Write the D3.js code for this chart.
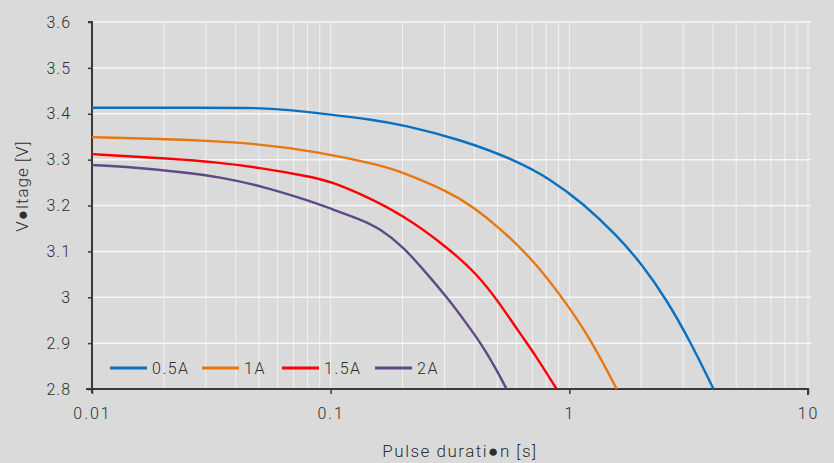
<!DOCTYPE html>
<html>
<head>
<meta charset="utf-8">
<script src="https://cdn.jsdelivr.net/npm/d3@7"></script>
<style>
  body { margin: 0; background: #dadada; }
  svg { display: block; }
  text { font-family: Roboto, "DejaVu Sans", sans-serif; font-weight: 300; fill: #2e2e2e; }
</style>
</head>
<body>
<svg></svg>
<script>
let w = 834;
let h = 463;

// data
let seriesNames = ['0.5A', '1A', '1.5A', '2A'];

let t05 = [0.01, 0.03, 0.05, 0.065, 0.1, 0.15, 0.2, 0.35, 0.6, 0.83, 1.14, 1.58, 2.03, 2.56, 3.2, 4.02];
let v05 = [3.413, 3.413, 3.413, 3.409, 3.398, 3.387, 3.376, 3.344, 3.298, 3.258, 3.205, 3.135, 3.07, 2.994, 2.905, 2.8];

let t1 = [0.01, 0.02, 0.03, 0.046, 0.09, 0.16, 0.195, 0.316, 0.395, 0.512, 0.704, 0.884, 1.19, 1.58];
let v1 = [3.349, 3.345, 3.341, 3.336, 3.317, 3.288, 3.275, 3.229, 3.197, 3.151, 3.081, 3.016, 2.922, 2.8];

let t15 = [0.01, 0.023, 0.032, 0.05, 0.084, 0.1, 0.133, 0.2015, 0.306, 0.409, 0.512, 0.621, 0.729, 0.884];
let v15 = [3.312, 3.301, 3.295, 3.283, 3.262, 3.252, 3.226, 3.179, 3.11, 3.052, 2.986, 2.921, 2.87, 2.8];

let t2 = [0.01, 0.013, 0.026, 0.034, 0.052, 0.084, 0.1, 0.133, 0.161, 0.2015, 0.2524, 0.306, 0.371, 0.436, 0.496, 0.546];
let v2 = [3.288, 3.286, 3.271, 3.262, 3.242, 3.208, 3.193, 3.17, 3.15, 3.11, 3.052, 3.001, 2.943, 2.892, 2.841, 2.8];

let yTicks = [2.8, 2.9, 3, 3.1, 3.2, 3.3, 3.4, 3.5, 3.6];
let xTicks = [0.01, 0.1, 1, 10];
let xTickLabels = ['0.01', '0.1', '1', '10'];

let colors = ['#0a70bf', '#e8770f', '#ff0000', '#5f4a86'];

let series = [
  { name: seriesNames[0], t: t05, v: v05 },
  { name: seriesNames[1], t: t1, v: v1 },
  { name: seriesNames[2], t: t15, v: v15 },
  { name: seriesNames[3], t: t2, v: v2 }
];

let pLeft = 92, pRight = 808, pTop = 22, pBottom = 389;

let svg = d3.select('svg').attr('width', w).attr('height', h);

let x = d3.scaleLog().domain([0.01, 10]).range([pLeft, pRight]);
let y = d3.scaleLinear().domain([2.8, 3.6]).range([pBottom, pTop]);

// minor gridlines on the log axis
let minor = [];
[0.01, 0.1, 1].forEach(d => {
  for (let k = 1; k <= 9; k++) minor.push(d * k);
});
minor.push(10);

svg.append('g')
  .selectAll('line')
  .data(minor)
  .enter()
  .append('line')
  .attr('x1', d => x(d))
  .attr('x2', d => x(d))
  .attr('y1', pTop)
  .attr('y2', pBottom)
  .attr('stroke', '#f2f2f2')
  .attr('stroke-width', 1);

svg.append('g')
  .selectAll('line')
  .data(yTicks.slice(1))
  .enter()
  .append('line')
  .attr('x1', pLeft)
  .attr('x2', pRight + 3)
  .attr('y1', d => y(d))
  .attr('y2', d => y(d))
  .attr('stroke', '#f6f6f6')
  .attr('stroke-width', 1.5);

// y axis
let yAxis = svg.append('g')
  .attr('transform', `translate(${pLeft},0)`)
  .call(d3.axisLeft(y).tickValues(yTicks).tickSize(4).tickPadding(17).tickFormat(d => d3.format('')(d)));
yAxis.select('.domain').attr('stroke', '#3a3a3a').attr('stroke-width', 2).attr('d', `M-4,${pTop}H0V${pBottom + 4}`);
yAxis.selectAll('.tick line').attr('stroke', '#3a3a3a').attr('stroke-width', 1.5);
yAxis.selectAll('.tick text').style('font-size', '16px').style('letter-spacing', '1px').attr('fill', '#2e2e2e');

// x axis
let xAxis = svg.append('g')
  .attr('transform', `translate(0,${pBottom})`)
  .call(d3.axisBottom(x).tickValues(xTicks).tickSize(5).tickPadding(14).tickFormat((d, i) => xTickLabels[i]));
xAxis.select('.domain').attr('stroke', '#3a3a3a').attr('stroke-width', 2).attr('d', `M${pLeft - 6},0H${pRight}V6`);
xAxis.selectAll('.tick line').attr('stroke', '#3a3a3a').attr('stroke-width', 1.5);
xAxis.selectAll('.tick text').style('font-size', '16px').style('letter-spacing', '2px').attr('fill', '#2e2e2e');

// curves
let line = d3.line()
  .x(d => x(d[0]))
  .y(d => y(d[1]))
  .curve(d3.curveBasis);

svg.append('g')
  .selectAll('path')
  .data(series)
  .enter()
  .append('path')
  .attr('d', s => line(s.t.map((t, i) => [t, s.v[i]])))
  .attr('fill', 'none')
  .attr('stroke', (s, i) => colors[i])
  .attr('stroke-width', 2.4)
  .attr('stroke-linejoin', 'round');

// legend
let legendX = [110, 202, 282, 375];
let legend = svg.append('g')
  .selectAll('g')
  .data(series)
  .enter()
  .append('g')
  .attr('transform', (s, i) => `translate(${legendX[i]},368)`);
legend.append('line')
  .attr('x1', 0).attr('x2', 37)
  .attr('stroke', (s, i) => colors[i])
  .attr('stroke-width', 3);
legend.append('text')
  .attr('x', 42)
  .attr('y', 6)
  .style('font-size', '16px')
  .style('letter-spacing', '1.5px')
  .text(s => s.name);

// axis titles
svg.append('text')
  .attr('x', 460)
  .attr('y', 457)
  .attr('text-anchor', 'middle')
  .style('font-size', '17px')
  .style('letter-spacing', '1.5px')
  .text('Pulse durati\u25CFn [s]');

svg.append('text')
  .attr('transform', 'translate(28,186) rotate(-90)')
  .attr('text-anchor', 'middle')
  .style('font-size', '17px')
  .style('letter-spacing', '1px')
  .text('V\u25CFltage [V]');
</script>
</body>
</html>
